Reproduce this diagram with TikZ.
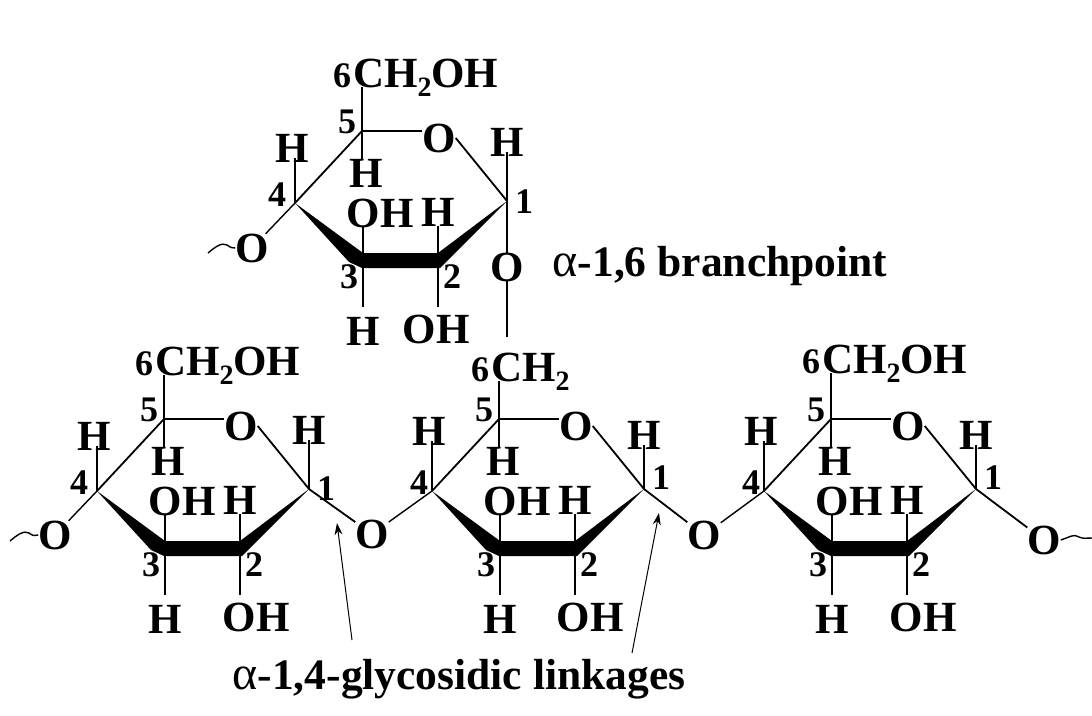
\documentclass[tikz,border=0pt]{standalone}
\usepackage{fontspec}
\setmainfont{Liberation Serif}
\usetikzlibrary{calc,arrows.meta}
\newcommand{\subtwo}{\raisebox{-0.22em}{\fontsize{28}{28}\selectfont 2}}
\newcommand{\alphachar}{{\mdseries\fontsize{48}{48}\selectfont α}}
\tikzset{
  atom/.style={inner sep=0pt,outer sep=0pt,font=\fontsize{43}{43}\selectfont\bfseries,text depth=0pt},
  numeral/.style={inner sep=0pt,outer sep=0pt,font=\fontsize{36}{36}\selectfont\bfseries},
  caption/.style={inner sep=0pt,outer sep=0pt,font=\fontsize{43.5}{44}\selectfont\bfseries},
  bond/.style={line width=1.8pt,black},
  gapbond/.style={bond,shorten >=10pt},
  intobond/.style={bond,shorten >=-4pt},
  thin bond/.style={line width=1.4pt,black},
  pointer/.style={line width=1pt,black,-{Stealth[length=12pt,width=8pt]}}
}
% name, dx, dy, H4 dy, H1 dy, numeral-1 dy, numeral-4 dx, lower OH dx
\newcommand{\sugarring}[8]{%
\begin{scope}[shift={(#2,#3)}]
  \coordinate (#1C1) at (507,201);
  \coordinate (#1C2) at (438,260);
  \coordinate (#1C3) at (363,260);
  \coordinate (#1C4) at (295,203);
  \coordinate (#1C5) at (362,131);
  \node[atom] (#1O)  at (439,138) {O};
  \node[atom] (#1H5) at (366,173) {H};
  \node[atom] (#1H4) at (292,{148+#4}) {H};
  \node[atom] (#1H1) at (507,{142+#5}) {H};
  \node[atom] (#1OHu) at (380,213) {OH};
  \node[atom] (#1Hu) at (438,212) {H};
  \node[atom] (#1Hd) at (363,331) {H};
  \node[atom] (#1OHd) at ({436+#8},329) {OH};
  \node[numeral] (#1n5) at (347,122) {5};
  \node[numeral] (#1n4) at ({277+#7},195) {4};
  \node[numeral] (#1n1) at (524,{202+#6}) {1};
  \node[numeral] (#1n3) at (349,277) {3};
  \node[numeral] (#1n2) at (452,277) {2};
  \fill[black] (#1C4) -- ($(#1C3)+(0,-7)$) -- ($(#1C2)+(0,-7)$) -- (#1C1)
     -- ($(#1C2)+(2,8)$) -- ($(#1C3)+(-1,8)$) -- ($(#1C3)+(-14,2)$) -- cycle;
  \draw[bond] (#1C4) -- (#1C5);
  \draw[bond] (#1C5) -- (#1C5 -| #1O.west);
  \draw[bond] (#1O.east) -- (#1C1);
  \draw[bond] (#1C5) -- (#1C5 |- #1H5.north);
  \draw[intobond] (#1C4) -- (#1C4 |- #1H4.south);
  \draw[intobond] (#1C1) -- (#1C1 |- #1H1.south);
  \draw[bond] (#1C3) -- (#1C3 |- #1OHu.south);
  \draw[bond] (#1C2) -- (#1C2 |- #1Hu.south);
  \draw[gapbond] (#1C3) -- (#1C3 |- #1Hd.north);
  \draw[gapbond] (#1C2) -- (#1C2 |- #1Hd.north);
\end{scope}}
\begin{document}
\begin{tikzpicture}[x=1pt,y=-1pt]
\useasboundingbox (0,0) rectangle (1092,715);
\fill[white] (0,0) rectangle (1092,715);
\sugarring{a}{0}{0}{0}{0}{0}{0}{0}
\sugarring{b}{-198}{288}{0}{0}{-1}{0}{18}
\sugarring{c}{137}{288}{-5}{5}{-12}{5}{17}
\sugarring{d}{469}{288}{-5}{5}{-12}{5}{18}
% top groups
\node[atom,anchor=base west] (atop) at (353,87) {CH\subtwo OH};
\node[atom,anchor=base west] (btop) at (155,375) {CH\subtwo OH};
\node[atom,anchor=base west] (ctop) at (491,381) {CH\subtwo};
\node[atom,anchor=base west] (dtop) at (822,373) {CH\subtwo OH};
\node[numeral,anchor=base east] (a6) at (351,87) {6};
\node[numeral,anchor=base east] (b6) at (153,375) {6};
\node[numeral,anchor=base east] (c6) at (489,381) {6};
\node[numeral,anchor=base east] (d6) at (820,373) {6};
\draw[bond] (aC5) -- (aC5 |- atop.base);
\draw[bond] (bC5) -- (bC5 |- btop.base);
\draw[bond] (cC5) -- (cC5 |- ctop.base);
\draw[bond] (dC5) -- (dC5 |- dtop.base);
% glycosidic oxygens
\node[atom] (Oa) at (252,248) {O};
\node[atom] (Ob) at (507,267) {O};
\node[atom] (Ol) at (55,535) {O};
\node[atom] (Obc) at (372,534) {O};
\node[atom] (Ocd) at (704,535) {O};
\node[atom] (Or) at (1044,540) {O};
\coordinate (branchend) at (507,337);
\coordinate (wa) at (208,253);
\coordinate (wl) at (10,541);
\coordinate (wr) at (1092,538);
\draw[thin bond] (aC4) -- (Oa);
\draw[thin bond] (wa) .. controls (215,247) and (222,242) .. (227,245) .. controls (231,248) and (233,248) .. (Oa.west);
\draw[thin bond] (bC4) -- (Ol);
\draw[thin bond] (wl) .. controls (17,535) and (24,530) .. (29,533) .. controls (33,536) and (35,536) .. (Ol.west);
\draw[bond] (aC1) -- (Ob.north);
\draw[bond] (Ob.south) -- (branchend);
\draw[bond] (bC1) -- (Obc);
\draw[thin bond] (Obc) -- (cC4);
\draw[bond] (cC1) -- (Ocd);
\draw[thin bond] (Ocd) -- (dC4);
\draw[bond] (dC1) -- (Or);
\draw[thin bond] (Or.east) .. controls (1068,538) and (1074,533) .. (1079,537) .. controls (1083,539) and (1087,538) .. (wr);
% captions
\node[caption] (lab16) at (720,266) {\alphachar-1,6 branchpoint};
\node[caption] (lab14) at (459,679) {\alphachar-1,4-glycosidic linkages};
\coordinate (tail1) at (352,640);
\coordinate (tip1) at (337,523);
\coordinate (tail2) at (632,653);
\coordinate (tip2) at (659,513);
\draw[pointer] (tail1) -- (tip1);
\draw[pointer] (tail2) -- (tip2);
\end{tikzpicture}
\end{document}
